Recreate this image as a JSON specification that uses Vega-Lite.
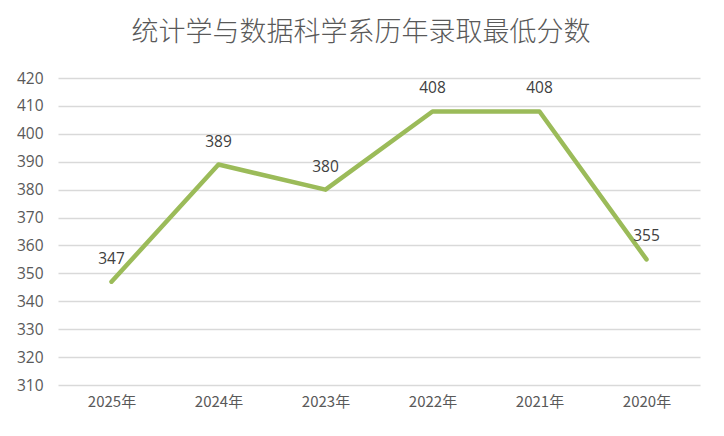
{
  "$schema": "https://vega.github.io/schema/vega-lite/v6.json",
  "width": 642,
  "height": 307,
  "autosize": "none",
  "padding": {"left": 58, "top": 78, "right": 24, "bottom": 51},
  "background": "white",
  "title": {
    "text": "统计学与数据科学系历年录取最低分数",
    "font": "Noto Sans CJK SC",
    "fontSize": 27,
    "fontWeight": 300,
    "color": "#595959",
    "anchor": "middle",
    "offset": 24,
    "dx": -18
  },
  "config": {
    "view": {"stroke": null},
    "font": "Noto Sans CJK SC"
  },
  "data": {
    "values": [
      {"year": "2025年", "score": 347},
      {"year": "2024年", "score": 389},
      {"year": "2023年", "score": 380},
      {"year": "2022年", "score": 408},
      {"year": "2021年", "score": 408},
      {"year": "2020年", "score": 355}
    ]
  },
  "encoding": {
    "x": {
      "field": "year",
      "type": "ordinal",
      "sort": null,
      "scale": {"type": "point", "padding": 0.5},
      "axis": {
        "title": null,
        "labelAngle": 0,
        "domain": false,
        "ticks": false,
        "labelFontSize": 15,
        "labelColor": "#595959",
        "labelPadding": 9,
        "labelFont": "Noto Sans CJK SC"
      }
    },
    "y": {
      "field": "score",
      "type": "quantitative",
      "scale": {"domain": [310, 420], "zero": false, "nice": false},
      "axis": {
        "title": null,
        "values": [310, 320, 330, 340, 350, 360, 370, 380, 390, 400, 410, 420],
        "domain": false,
        "ticks": false,
        "gridColor": "#d9d9d9",
        "gridWidth": 1.3,
        "labelFontSize": 15.5,
        "labelColor": "#595959",
        "labelPadding": 15,
        "labelFont": "Open Sans"
      }
    }
  },
  "layer": [
    {
      "mark": {"type": "line", "color": "#9BBB59", "strokeWidth": 4.5, "strokeCap": "round", "strokeJoin": "round"}
    },
    {
      "mark": {"type": "text", "dy": -23, "fontSize": 15.5, "color": "#404040", "font": "Open Sans"},
      "encoding": {"text": {"field": "score", "type": "quantitative"}}
    }
  ]
}
